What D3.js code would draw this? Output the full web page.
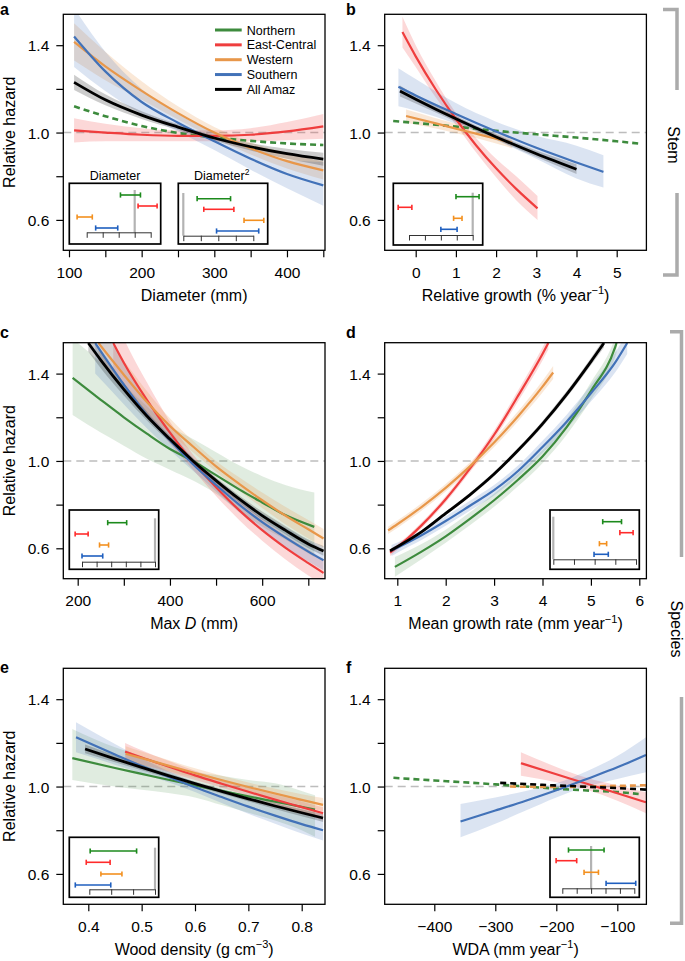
<!DOCTYPE html>
<html><head><meta charset="utf-8">
<script src="https://cdn.jsdelivr.net/npm/d3@7"></script>
<style>
body{margin:0;background:#fff}
svg{display:block}
text{font-family:"Liberation Sans",Arial,Helvetica,sans-serif;fill:#000}
</style>
</head><body>
<svg id="c" width="685" height="961"></svg>
<script>
// ---------------- DATA ----------------
const regions = ["Northern","East-Central","Western","Southern","All Amaz"];
const yTicks = [0.6,0.8,1.0,1.2,1.4];
const yLabels = [0.6,1.0,1.4];

// Panel a : Diameter (mm)
const aN = {x:[107,150,200,250,300,350,400,450], y:[1.12,1.075,1.03,0.998,0.978,0.962,0.95,0.943]};
const aE = {x:[107,150,200,250,300,350,400,450], y:[1.01,1.0,0.99,0.985,0.985,0.99,1.005,1.028],
  lo:[0.955,0.96,0.96,0.96,0.96,0.96,0.965,0.972], hi:[1.065,1.04,1.02,1.01,1.01,1.02,1.048,1.085]};
const aW = {x:[107,150,200,250,300,350,400,450], y:[1.415,1.303,1.191,1.089,1.0,0.928,0.869,0.827],
  lo:[1.33,1.24,1.15,1.06,0.975,0.9,0.835,0.785], hi:[1.5,1.37,1.235,1.12,1.025,0.955,0.905,0.868]};
const aS = {x:[107,150,200,250,300,350,400,450], y:[1.44,1.28,1.14,1.045,0.96,0.88,0.81,0.758],
  lo:[1.30,1.19,1.085,1.005,0.92,0.83,0.745,0.665], hi:[1.57,1.37,1.2,1.085,1.0,0.93,0.875,0.865]};
const aA = {x:[107,150,200,250,300,350,400,450], y:[1.23,1.15,1.08,1.025,0.975,0.935,0.903,0.878],
  lo:[1.195,1.125,1.062,1.012,0.963,0.918,0.88,0.848], hi:[1.265,1.175,1.098,1.038,0.987,0.952,0.926,0.908]};

// Panel b : Relative growth (% year-1)
const bN = {x:[-0.56,1,2,3,4,5,5.54], y:[1.053,1.027,1.008,0.992,0.977,0.96,0.95]};
const bE = {x:[-0.33,0,0.5,1,1.5,2,2.5,3.03], y:[1.46,1.349,1.197,1.062,0.942,0.836,0.742,0.653],
  lo:[1.39,1.3,1.16,1.035,0.91,0.795,0.69,0.6], hi:[1.53,1.4,1.235,1.09,0.975,0.88,0.8,0.71]};
const bW = {x:[-0.24,0.5,1,1.5,2,2.4], y:[1.076,1.042,1.018,0.995,0.972,0.953],
  lo:[1.045,1.018,0.997,0.975,0.95,0.928], hi:[1.105,1.066,1.04,1.016,0.995,0.978]};
const bS = {x:[-0.43,0,1,2,3,4,4.67], y:[1.21,1.17,1.085,1.005,0.93,0.863,0.82],
  lo:[1.12,1.1,1.04,0.965,0.88,0.79,0.748], hi:[1.295,1.245,1.135,1.05,0.985,0.94,0.896]};
const bA = {x:[-0.39,0,1,2,3,4], y:[1.19,1.153,1.063,0.98,0.903,0.832],
  lo:[1.165,1.133,1.05,0.968,0.888,0.81], hi:[1.215,1.173,1.076,0.992,0.918,0.855]};

// Panel c : Max D (mm)
const cN = {x:[189,250,300,350,400,450,500,550,600,650,713], y:[1.38,1.28,1.2,1.125,1.055,1.0,0.935,0.87,0.81,0.752,0.698],
  lo:[1.21,1.13,1.07,1.01,0.96,0.91,0.85,0.77,0.7,0.64,0.56], hi:[1.56,1.45,1.35,1.25,1.16,1.1,1.04,0.98,0.93,0.89,0.855]};
const cE = {x:[277,300,350,400,450,500,550,600,650,700,733], y:[1.54,1.45,1.28,1.13,0.995,0.88,0.775,0.683,0.603,0.532,0.487],
  lo:[1.42,1.35,1.21,1.08,0.96,0.84,0.73,0.635,0.55,0.475,0.43], hi:[1.67,1.56,1.36,1.18,1.03,0.92,0.82,0.735,0.66,0.595,0.55]};
const cW = {x:[245,300,350,400,450,500,550,600,650,700,733], y:[1.54,1.395,1.27,1.16,1.066,0.975,0.895,0.82,0.75,0.687,0.645],
  lo:[1.46,1.33,1.22,1.125,1.04,0.95,0.865,0.785,0.71,0.645,0.605], hi:[1.62,1.46,1.32,1.195,1.092,1.0,0.925,0.855,0.79,0.73,0.688]};
const cS = {x:[238,300,350,400,450,500,550,600,650,700,733], y:[1.54,1.35,1.21,1.095,0.985,0.89,0.8,0.72,0.65,0.585,0.545],
  lo:[1.4,1.26,1.15,1.05,0.955,0.86,0.765,0.68,0.605,0.54,0.5], hi:[1.68,1.45,1.28,1.14,1.015,0.92,0.835,0.76,0.695,0.635,0.595]};
const cA = {x:[223,250,300,350,400,450,500,550,600,650,700,733], y:[1.54,1.462,1.328,1.206,1.1,1.0,0.91,0.826,0.75,0.683,0.62,0.588],
  lo:[1.5,1.425,1.3,1.185,1.085,0.988,0.897,0.81,0.732,0.664,0.6,0.566], hi:[1.58,1.5,1.356,1.227,1.115,1.012,0.923,0.842,0.768,0.702,0.64,0.61]};

// Panel d : Mean growth rate (mm year-1)
const dN = {x:[0.95,1.5,2,2.5,3,3.5,4,4.5,5,5.5,5.53], y:[0.515,0.585,0.655,0.735,0.82,0.915,1.02,1.155,1.32,1.52,1.54],
  lo:[0.47,0.55,0.625,0.705,0.79,0.885,0.99,1.12,1.28,1.475,1.495], hi:[0.56,0.62,0.685,0.765,0.85,0.945,1.05,1.19,1.36,1.565,1.585]};
const dE = {x:[0.85,1,1.5,2,2.5,3,3.5,4,4.12], y:[0.58,0.605,0.705,0.825,0.965,1.12,1.3,1.49,1.54],
  lo:[0.565,0.592,0.692,0.81,0.948,1.1,1.275,1.46,1.51], hi:[0.595,0.618,0.718,0.84,0.982,1.14,1.325,1.52,1.57]};
const dW = {x:[0.81,1,1.5,2,2.5,3,3.5,4,4.22], y:[0.682,0.71,0.789,0.877,0.975,1.084,1.206,1.34,1.405],
  lo:[0.665,0.693,0.772,0.86,0.957,1.064,1.183,1.313,1.375], hi:[0.699,0.727,0.806,0.894,0.993,1.104,1.229,1.367,1.435]};
const dS = {x:[0.88,1,1.5,2,2.5,3,3.5,4,4.5,5,5.5,5.75], y:[0.59,0.603,0.66,0.725,0.795,0.866,0.955,1.064,1.18,1.31,1.45,1.54],
  lo:[0.565,0.58,0.638,0.703,0.772,0.842,0.93,1.036,1.148,1.272,1.405,1.49], hi:[0.615,0.626,0.682,0.747,0.818,0.89,0.98,1.092,1.212,1.348,1.495,1.59]};
const dA = {x:[0.85,1,1.5,2,2.5,3,3.5,4,4.5,5,5.27], y:[0.588,0.607,0.675,0.76,0.845,0.94,1.05,1.17,1.305,1.455,1.54],
  lo:[0.58,0.6,0.668,0.752,0.836,0.93,1.039,1.157,1.29,1.438,1.52], hi:[0.596,0.614,0.682,0.768,0.854,0.95,1.061,1.183,1.32,1.472,1.56]};

// Panel e : Wood density (g cm-3)
const eN = {x:[0.37,0.45,0.5,0.55,0.6,0.65,0.7,0.75,0.8,0.825], y:[1.13,1.085,1.058,1.031,1.005,0.98,0.955,0.931,0.907,0.895],
  lo:[1.03,1.0,0.985,0.97,0.95,0.915,0.88,0.845,0.8,0.77], hi:[1.264,1.18,1.14,1.1,1.065,1.05,1.03,1.015,0.98,0.96]};
const eE = {x:[0.469,0.5,0.55,0.6,0.65,0.7,0.75,0.8,0.84], y:[1.16,1.133,1.092,1.051,1.013,0.976,0.94,0.906,0.878],
  lo:[1.12,1.1,1.066,1.03,0.995,0.958,0.918,0.88,0.845], hi:[1.2,1.166,1.118,1.072,1.031,0.994,0.962,0.932,0.905]};
const eW = {x:[0.47,0.5,0.6,0.7,0.8,0.84], y:[1.15,1.13,1.062,0.998,0.939,0.916],
  lo:[1.115,1.1,1.04,0.978,0.913,0.885], hi:[1.185,1.16,1.084,1.018,0.965,0.947]};
const eS = {x:[0.377,0.45,0.5,0.55,0.6,0.65,0.7,0.75,0.8,0.84], y:[1.226,1.147,1.094,1.045,0.997,0.952,0.908,0.867,0.828,0.8],
  lo:[1.157,1.1,1.06,1.02,0.975,0.925,0.875,0.83,0.785,0.753], hi:[1.295,1.195,1.13,1.07,1.02,0.98,0.94,0.905,0.875,0.86]};
const eA = {x:[0.394,0.45,0.5,0.55,0.6,0.65,0.7,0.75,0.8,0.84], y:[1.172,1.127,1.088,1.05,1.013,0.978,0.944,0.911,0.88,0.856],
  lo:[1.152,1.111,1.075,1.039,1.003,0.967,0.932,0.897,0.864,0.838], hi:[1.192,1.143,1.101,1.061,1.023,0.989,0.956,0.925,0.896,0.874]};

// Panel f : WDA (mm year-1)
const fN = {x:[-467,-400,-300,-250,-200,-150,-100,-65], y:[1.04,1.028,1.01,1.0,0.99,0.982,0.975,0.966]};
const fE = {x:[-258,-200,-150,-100,-53], y:[1.107,1.056,1.013,0.969,0.928],
  lo:[1.05,1.02,0.985,0.935,0.878], hi:[1.157,1.09,1.04,1.005,0.974]};
const fW = {x:[-276,-200,-100,-53], y:[1.0,0.998,1.003,1.006]};
const fS = {x:[-357,-300,-250,-200,-150,-100,-53], y:[0.84,0.89,0.935,0.983,1.035,1.088,1.145],
  lo:[0.768,0.83,0.89,0.95,1.0,1.035,1.066], hi:[0.92,0.95,0.98,1.015,1.07,1.14,1.226]};
const fA = {x:[-292,-200,-100,-53], y:[1.017,1.005,0.993,0.986]};

// Inset coefficient intervals (in inset tick units), order: Northern, East-Central, Western, Southern
const insA1 = [[-0.89,0.36],[0.21,1.4],[-3.6,-2.65],[-2.44,-1.06]];
const insA2 = [[0.79,2.7],[1.17,2.89],[3.47,4.6],[1.9,4.31]];
const insB  = [[-1.05,0.4],[-4.68,-3.82],[-1.2,-0.67],[-2.0,-0.98]];
const insC  = [[-3.24,-1.94],[-5.47,-4.58],[-3.8,-3.18],[-5.0,-3.58]];
const insD  = [[2.39,3.3],[3.22,3.86],[2.23,2.58],[1.97,2.66]];
const insE  = [[-2.96,-0.84],[-3.14,-2.05],[-2.47,-1.51],[-3.64,-2.02]];
const insF  = [[-1.57,0.9],[-2.43,-1.0],[-0.49,0.51],[1.04,3.1]];
const insTicksA1 = [-3,-2,-1,0,1];
const insTicksA2 = [0,1,2,3,4];
const insTicksB  = [-4,-3,-2,-1,0];
const insTicksC  = [-5,-4,-3,-2,-1,0];
const insTicksD  = [0,1,2,3,4];
const insTicksE  = [-3,-2,-1,0];
const insTicksF  = [-2,-1,0,1,2,3];

// ---------------- STYLE ----------------
const lineCol = {"Northern":"#3d8b3d","East-Central":"#ef3e3e","Western":"#e8974a","Southern":"#4272b8","All Amaz":"#000"};
const ribCol  = {"Northern":"rgba(61,139,61,0.16)","East-Central":"rgba(239,62,62,0.2)","Western":"rgba(232,151,74,0.22)","Southern":"rgba(66,114,184,0.19)","All Amaz":"rgba(0,0,0,0.2)"};
const barCol  = ["#1c8a1c","#ff2b2b","#f3901f","#1f5fbf"];

const svg = d3.select("#c");
const W = 261.7, H = 236;
const fmtMinus = d => d < 0 ? "\u2212" + Math.abs(d) : String(d);

const panels = [
  {id:"a", left:63.3, top:14.3, letterY:15, xd:[100,450], xr:[69,323.3], ticks:d3.range(100,451,50), labels:[100,200,300,400], fmt:String,
   series:[aN,aE,aW,aS,aA], dashed:[true,false,false,false,false], ylab:true, title:[["Diameter (mm)"]]},
  {id:"b", left:384.7, top:14.3, letterY:15, xd:[0,5], xr:[415.7,616.7], ticks:[0,1,2,3,4,5], labels:[0,1,2,3,4,5], fmt:String,
   series:[bN,bE,bW,bS,bA], dashed:[true,false,false,false,false], ylab:false, title:[["Relative growth (% year"],["\u22121","sup"],[")"]]},
  {id:"c", left:63.3, top:342.7, letterY:338, xd:[200,700], xr:[77.7,308.3], ticks:d3.range(200,701,100), labels:[200,400,600], fmt:String,
   series:[cN,cE,cW,cS,cA], dashed:[false,false,false,false,false], ylab:true, title:[["Max "],["D","it"],[" (mm)"]]},
  {id:"d", left:384.7, top:342.7, letterY:338, xd:[1,6], xr:[397.3,639.3], ticks:[1,2,3,4,5,6], labels:[1,2,3,4,5,6], fmt:String,
   series:[dN,dE,dW,dS,dA], dashed:[false,false,false,false,false], ylab:false, title:[["Mean growth rate (mm year"],["\u22121","sup"],[")"]]},
  {id:"e", left:63.3, top:668.3, letterY:673, xd:[0.4,0.8], xr:[88.3,301.7], ticks:[0.4,0.5,0.6,0.7,0.8], labels:[0.4,0.5,0.6,0.7,0.8], fmt:d=>d.toFixed(1),
   series:[eN,eE,eW,eS,eA], dashed:[false,false,false,false,false], ylab:true, title:[["Wood density (g cm"],["\u22123","sup"],[")"]]},
  {id:"f", left:384.7, top:668.3, letterY:673, xd:[-400,-100], xr:[434.3,617.3], ticks:[-400,-300,-200,-100], labels:[-400,-300,-200,-100], fmt:fmtMinus,
   series:[fN,fE,fW,fS,fA], dashed:[true,false,true,false,true], ylab:false, title:[["WDA (mm year"],["\u22121","sup"],[")"]]}
];

const defs = svg.append("defs");

panels.forEach(p => {
  const x = d3.scaleLinear().domain(p.xd).range(p.xr);
  const y = d3.scaleLinear().domain([0.6,1.4]).range([p.top+205.6, p.top+30.9]);
  const g = svg.append("g");
  defs.append("clipPath").attr("id","clip"+p.id).append("rect")
    .attr("x",p.left).attr("y",p.top).attr("width",W).attr("height",H);
  const plot = g.append("g").attr("clip-path",`url(#clip${p.id})`);

  plot.append("line").attr("x1",p.left).attr("x2",p.left+W).attr("y1",y(1)).attr("y2",y(1))
    .attr("stroke","#bdbdbd").attr("stroke-width",1.4).attr("stroke-dasharray","8,5");

  // ribbons
  p.series.forEach((s,i) => {
    if (!s.lo) return;
    const pts = s.x.map((v,k)=>({x:v, lo:s.lo[k], hi:s.hi[k]}));
    const area = d3.area().x(d=>x(d.x)).y0(d=>y(d.lo)).y1(d=>y(d.hi)).curve(d3.curveMonotoneX);
    plot.append("path").attr("d",area(pts)).attr("fill",ribCol[regions[i]]).attr("stroke","none");
  });
  // lines
  p.series.forEach((s,i) => {
    const pts = s.x.map((v,k)=>({x:v, y:s.y[k]}));
    const line = d3.line().x(d=>x(d.x)).y(d=>y(d.y)).curve(d3.curveMonotoneX);
    const isA = regions[i]==="All Amaz";
    plot.append("path").attr("d",line(pts)).attr("fill","none")
      .attr("stroke",lineCol[regions[i]])
      .attr("stroke-width", p.dashed[i] ? 2.6 : (isA ? 2.8 : 2.2))
      .attr("stroke-dasharray", p.dashed[i] ? "6,4" : null);
  });

  // box
  g.append("rect").attr("x",p.left).attr("y",p.top).attr("width",W).attr("height",H)
    .attr("fill","none").attr("stroke","#000").attr("stroke-width",1.3);

  // x axis
  const xa = g.append("g").attr("transform",`translate(0,${p.top+H})`)
    .call(d3.axisBottom(x).tickValues(p.ticks).tickSize(7).tickSizeOuter(0)
      .tickFormat(d => p.labels.some(l=>Math.abs(l-d)<1e-9) ? p.fmt(d) : ""));
  xa.select(".domain").remove();
  xa.selectAll(".tick line").attr("stroke","#000").attr("stroke-width",1.2);
  xa.selectAll(".tick text").attr("y",27.5).attr("dy",0).attr("font-size",15.5)
    .attr("font-family",'"Liberation Sans",Arial,sans-serif').attr("fill","#000");

  // y axis
  const ya = g.append("g").attr("transform",`translate(${p.left},0)`)
    .call(d3.axisLeft(y).tickValues(yTicks).tickSize(7).tickSizeOuter(0)
      .tickFormat(d => yLabels.some(l=>Math.abs(l-d)<1e-9) ? d.toFixed(1) : ""));
  ya.select(".domain").remove();
  ya.selectAll(".tick line").attr("stroke","#000").attr("stroke-width",1.2);
  ya.selectAll(".tick text").attr("x",-14).attr("dy","0.36em").attr("font-size",15.5)
    .attr("font-family",'"Liberation Sans",Arial,sans-serif').attr("fill","#000");

  // x title
  const t = g.append("text").attr("x",p.left+W/2).attr("y",p.top+H+50.5)
    .attr("text-anchor","middle").attr("font-size",16);
  let prevSup = false;
  p.title.forEach(part => {
    const ts = t.append("tspan").text(part[0]);
    if (part[1]==="sup") ts.attr("font-size",11).attr("dy",-6.5);
    else if (prevSup) ts.attr("dy",6.5);
    if (part[1]==="it") ts.attr("font-style","italic");
    prevSup = part[1]==="sup";
  });

  if (p.ylab) {
    g.append("text").attr("transform",`translate(14.5,${p.top+H/2}) rotate(-90)`)
      .attr("text-anchor","middle").attr("font-size",16).text("Relative hazard");
  }
  // panel letter
  g.append("text").attr("x", p.left<100 ? 0 : 346).attr("y", p.letterY)
    .attr("font-size",16).attr("font-weight","bold").text(p.id);
});

// ---------------- LEGEND (panel a) ----------------
const leg = svg.append("g");
regions.forEach((r,i) => {
  const yy = 30 + i*14.85;
  leg.append("line").attr("x1",215).attr("x2",241.7).attr("y1",yy).attr("y2",yy)
    .attr("stroke",lineCol[r]).attr("stroke-width",3);
  leg.append("text").attr("x",246.7).attr("y",yy+4.5).attr("font-size",12.5).text(r);
});

// ---------------- INSETS ----------------
const insets = [
  {data:insA1, ticks:insTicksA1, box:[69.3,183.3,160.7,244], px:[86.7,150.7], ay:232.3, zt:190, rows:[195,206,217,228]},
  {data:insA2, ticks:insTicksA2, box:[178.3,183.3,267.7,244], px:[183.3,253.3], ay:235.7, zt:193, rows:[198.7,209.3,220.3,231]},
  {data:insB, ticks:insTicksB, box:[393.3,183.3,482.7,245], px:[409,472.7], ay:235, zt:192.7, rows:[196.7,207.3,218.3,229.3]},
  {data:insC, ticks:insTicksC, box:[69.3,510,158.7,569.3], px:[82,155], ay:561.7, zt:518.3, rows:[522.7,534,545,556]},
  {data:insD, ticks:insTicksD, box:[550,510,639.3,569.3], px:[553.3,636], ay:559.3, zt:516.7, rows:[521.7,532.7,543.7,554.3]},
  {data:insE, ticks:insTicksE, box:[69.3,837.3,158.7,897.3], px:[89.3,155], ay:889.3, zt:847.7, rows:[851,862.3,874,885]},
  {data:insF, ticks:insTicksF, box:[550,837.3,639.3,897.3], px:[562.3,634.3], ay:888.3, zt:846, rows:[850,860.7,872.3,883.3]}
];
insets.forEach(c => {
  const g = svg.append("g");
  const xs = d3.scaleLinear().domain([c.ticks[0], c.ticks[c.ticks.length-1]]).range(c.px);
  g.append("rect").attr("x",c.box[0]).attr("y",c.box[1]).attr("width",c.box[2]-c.box[0]).attr("height",c.box[3]-c.box[1])
    .attr("fill","#fff").attr("stroke","#000").attr("stroke-width",1.7);
  g.append("line").attr("x1",xs(0)).attr("x2",xs(0)).attr("y1",c.zt).attr("y2",c.ay)
    .attr("stroke","#b3b3b3").attr("stroke-width",2.2);
  const ax = g.append("g").attr("transform",`translate(0,${c.ay})`)
    .call(d3.axisBottom(xs).tickValues(c.ticks).tickSize(5.5).tickSizeOuter(0).tickFormat(""));
  ax.select(".domain").attr("stroke","#333").attr("stroke-width",1);
  ax.selectAll(".tick line").attr("stroke","#333").attr("stroke-width",1);
  c.data.forEach((iv,i) => {
    const yy = c.rows[i];
    g.append("line").attr("x1",xs(iv[0])).attr("x2",xs(iv[1])).attr("y1",yy).attr("y2",yy)
      .attr("stroke",barCol[i]).attr("stroke-width",1.6);
    [iv[0],iv[1]].forEach(v => g.append("line").attr("x1",xs(v)).attr("x2",xs(v)).attr("y1",yy-2.6).attr("y2",yy+2.6)
      .attr("stroke",barCol[i]).attr("stroke-width",1.6));
  });
});
// inset titles (panel a)
svg.append("text").attr("x",115).attr("y",179.5).attr("text-anchor","middle").attr("font-size",12.5).text("Diameter");
const t2 = svg.append("text").attr("x",221.7).attr("y",179.5).attr("text-anchor","middle").attr("font-size",12.5);
t2.append("tspan").text("Diameter");
t2.append("tspan").attr("font-size",8.5).attr("dy",-5).text("2");

// ---------------- BRACKETS ----------------
const br = svg.append("g").attr("fill","none").attr("stroke","#ababab").attr("stroke-width",3.5);
br.append("path").attr("d","M663,9.5 H677 V90 M677,193 V275 H663");
br.append("path").attr("d","M670,331.7 H681.5 V557 M681.5,697 V923.3 H670");
svg.append("text").attr("transform","translate(667.5,145) rotate(90)").attr("text-anchor","middle").attr("font-size",16).text("Stem");
svg.append("text").attr("transform","translate(670.5,629) rotate(90)").attr("text-anchor","middle").attr("font-size",16).text("Species");
</script>
</body></html>
